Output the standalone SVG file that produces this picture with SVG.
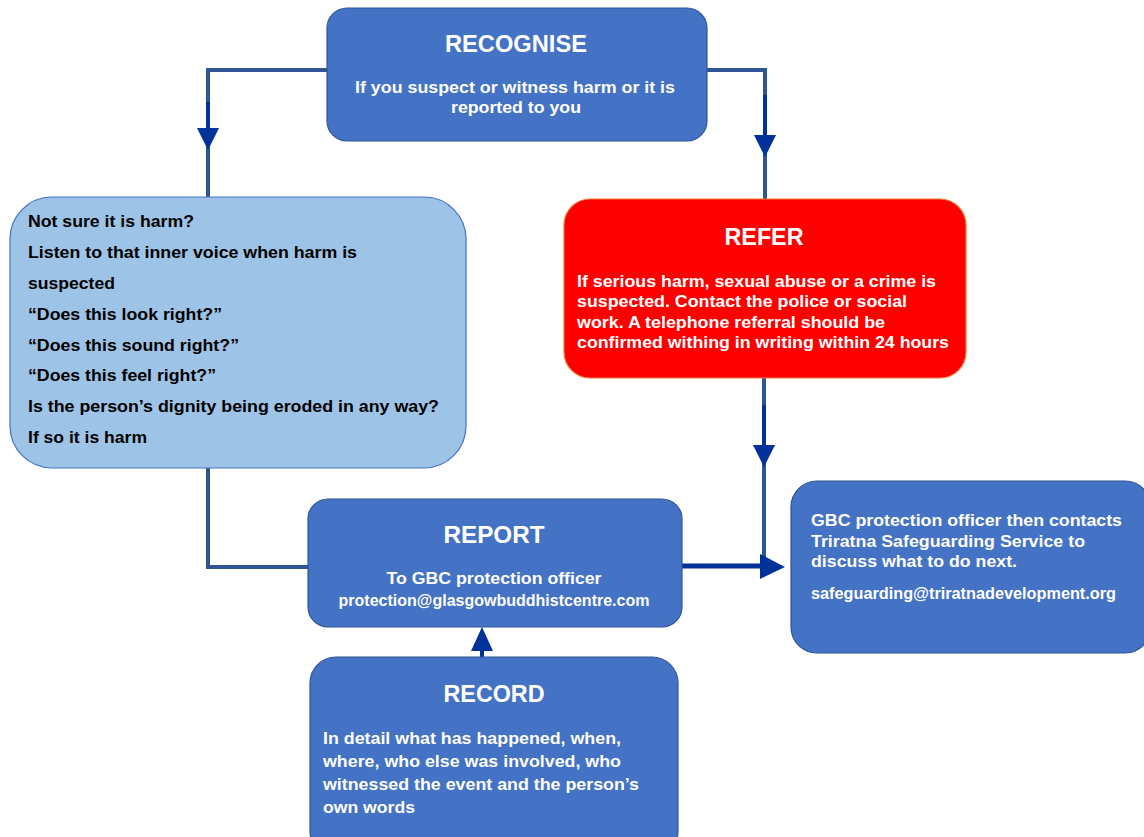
<svg xmlns="http://www.w3.org/2000/svg" width="1144" height="837" viewBox="0 0 1144 837">
<defs>
<style>
.box{fill:#4472C4;stroke:#2F5597;stroke-width:1.2}
.t{font-family:"Liberation Sans",Arial,sans-serif;font-weight:bold;fill:#fff}
.title{font-size:23px;text-anchor:middle}
.b{font-size:16px}
.bk{fill:#000}
.ln{fill:none;stroke:#2F5597;stroke-width:4}
.dk{fill:none;stroke:#003399;stroke-width:4}
.ah{fill:#003399}
</style>
</defs>
<rect width="1144" height="837" fill="#fff"/>
<g id="connectors">
<path class="ln" d="M327 70 H208 V197"/>
<path class="dk" d="M208 102 V130"/>
<polygon class="ah" points="197,128 219,128 208,150"/>
<path class="ln" d="M707 70 H765 V199"/>
<path class="dk" d="M765 95 V137"/>
<polygon class="ah" points="754,135 776,135 765,157"/>
<path class="ln" d="M764 378 V567"/>
<path class="dk" d="M764 405 V447"/>
<polygon class="ah" points="753,445 775,445 764,467"/>
<path class="ln" d="M208 468 V567 H308"/>
<path class="dk" d="M682 566 H762" style="stroke-width:5"/>
<polygon class="ah" points="760,554 760,579 785,567"/>
<path class="dk" d="M482 657 V648"/>
<polygon class="ah" points="471,651 493,651 482,627"/>
</g>
<g id="recognise">
<rect class="box" x="327" y="8" width="380" height="133" rx="20"/>
<text class="t title" x="516" y="52" textLength="142" lengthAdjust="spacingAndGlyphs">RECOGNISE</text>
<text class="t b" x="515" y="93" text-anchor="middle" textLength="320" lengthAdjust="spacingAndGlyphs">If you suspect or witness harm or it is</text>
<text class="t b" x="516" y="113" text-anchor="middle" textLength="130" lengthAdjust="spacingAndGlyphs">reported to you</text>
</g>
<g id="notsure">
<rect x="10" y="197" width="456" height="271" rx="42" fill="#9DC3E6" stroke="#4472C4" stroke-width="1.2"/>
<text class="t b bk" x="28" y="227" textLength="166" lengthAdjust="spacingAndGlyphs">Not sure it is harm?</text>
<text class="t b bk" x="28" y="258" textLength="329" lengthAdjust="spacingAndGlyphs">Listen to that inner voice when harm is</text>
<text class="t b bk" x="28" y="289" textLength="87" lengthAdjust="spacingAndGlyphs">suspected</text>
<text class="t b bk" x="28" y="320" textLength="194" lengthAdjust="spacingAndGlyphs">“Does this look right?”</text>
<text class="t b bk" x="28" y="351" textLength="211" lengthAdjust="spacingAndGlyphs">“Does this sound right?”</text>
<text class="t b bk" x="28" y="381" textLength="188" lengthAdjust="spacingAndGlyphs">“Does this feel right?”</text>
<text class="t b bk" x="28" y="412" textLength="411" lengthAdjust="spacingAndGlyphs">Is the person’s dignity being eroded in any way?</text>
<text class="t b bk" x="28" y="443" textLength="119" lengthAdjust="spacingAndGlyphs">If so it is harm</text>
</g>
<g id="refer">
<rect x="564" y="199" width="402" height="179" rx="26" fill="#FF0000" stroke="#ED7D31" stroke-width="1.2"/>
<text class="t title" x="764" y="245" textLength="79" lengthAdjust="spacingAndGlyphs">REFER</text>
<text class="t b" x="577" y="287" textLength="359" lengthAdjust="spacingAndGlyphs">If serious harm, sexual abuse or a crime is</text>
<text class="t b" x="577" y="307" textLength="330" lengthAdjust="spacingAndGlyphs">suspected. Contact the police or social</text>
<text class="t b" x="577" y="328" textLength="308" lengthAdjust="spacingAndGlyphs">work. A telephone referral should be</text>
<text class="t b" x="577" y="348" textLength="372" lengthAdjust="spacingAndGlyphs">confirmed withing in writing within 24 hours</text>
</g>
<g id="report">
<rect class="box" x="308" y="499" width="374" height="128" rx="20"/>
<text class="t title" x="494" y="543" textLength="101" lengthAdjust="spacingAndGlyphs">REPORT</text>
<text class="t b" x="494" y="584" text-anchor="middle" textLength="215" lengthAdjust="spacingAndGlyphs">To GBC protection officer</text>
<text class="t b" x="494" y="606" text-anchor="middle" textLength="311" lengthAdjust="spacingAndGlyphs">protection@glasgowbuddhistcentre.com</text>
</g>
<g id="gbc">
<rect class="box" x="791" y="481" width="360" height="172" rx="26"/>
<text class="t b" x="811" y="526" textLength="311" lengthAdjust="spacingAndGlyphs">GBC protection officer then contacts</text>
<text class="t b" x="811" y="547" textLength="274" lengthAdjust="spacingAndGlyphs">Triratna Safeguarding Service to</text>
<text class="t b" x="811" y="567" textLength="206" lengthAdjust="spacingAndGlyphs">discuss what to do next.</text>
<text class="t b" x="811" y="599" textLength="305" lengthAdjust="spacingAndGlyphs">safeguarding@triratnadevelopment.org</text>
</g>
<g id="record">
<rect class="box" x="310" y="657" width="368" height="200" rx="26"/>
<text class="t title" x="494" y="702" textLength="101" lengthAdjust="spacingAndGlyphs">RECORD</text>
<text class="t b" x="323" y="744" textLength="298" lengthAdjust="spacingAndGlyphs">In detail what has happened, when,</text>
<text class="t b" x="323" y="767" textLength="298" lengthAdjust="spacingAndGlyphs">where, who else was involved, who</text>
<text class="t b" x="323" y="790" textLength="316" lengthAdjust="spacingAndGlyphs">witnessed the event and the person’s</text>
<text class="t b" x="323" y="813" textLength="92" lengthAdjust="spacingAndGlyphs">own words</text>
</g>
</svg>
